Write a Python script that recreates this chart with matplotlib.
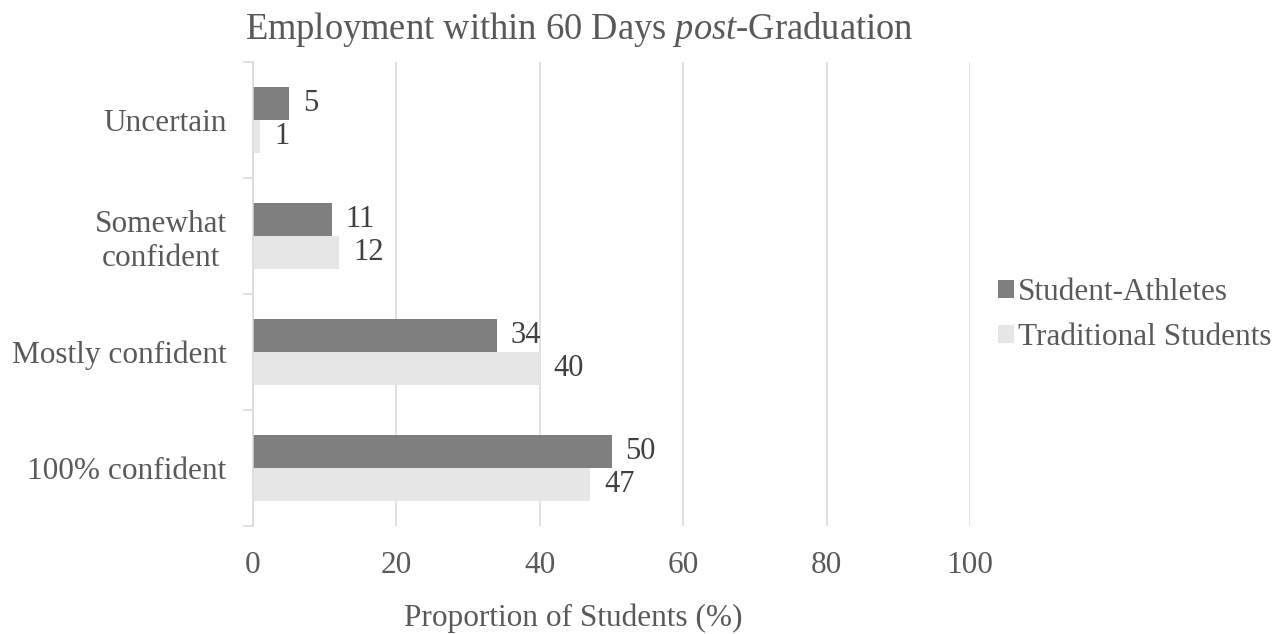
import numpy as np
import matplotlib
matplotlib.use("Agg")
import matplotlib.pyplot as plt

# confidence of employment within 60 days, % of students
categories = ["100% confident", "Mostly confident", "Somewhat\nconfident", "Uncertain"]
athletes = [50, 34, 11, 5]
traditional = [47, 40, 12, 1]
series_names = ["Student-Athletes", "Traditional Students"]
x_ticks = [0, 20, 40, 60, 80, 100]

plt.rcParams["font.family"] = ["Liberation Serif", "DejaVu Serif"]
plt.rcParams["mathtext.fontset"] = "custom"
plt.rcParams["mathtext.rm"] = "Liberation Serif"
plt.rcParams["mathtext.it"] = "Liberation Serif:italic"

text_col = "#595959"
grid_col = "#d9d9d9"
dark = "#7f7f7f"
light = "#e6e6e6"
fs = 22.5

fig = plt.figure(figsize=(12.77, 6.34), dpi=100)
ax = fig.add_axes([253 / 1277, 1 - 526 / 634, (970 - 253) / 1277, (526 - 62) / 634])

y = np.arange(len(categories))
h = 0.285
b1 = ax.barh(y + h / 2, athletes, height=h, color=dark, label=series_names[0], zorder=3)
b2 = ax.barh(y - h / 2, traditional, height=h, color=light, label=series_names[1], zorder=3)

# value labels just past the bar ends
for bars, vals in [(b1, athletes), (b2, traditional)]:
    for bar, v in zip(bars, vals):
        ax.annotate(str(v), (v, bar.get_y() + bar.get_height() / 2),
                    xytext=(10, 0), textcoords="offset points",
                    ha="left", va="center", fontsize=22, color="#404040")

ax.set_xlim(0, 100)
ax.set_ylim(-0.5, len(categories) - 0.5)
ax.set_xticks(x_ticks)
ax.set_xticklabels([str(t) for t in x_ticks])
ax.set_yticks(y)
ax.set_yticklabels(categories, ha="right", multialignment="center")
ax.set_yticks(np.arange(-0.5, len(categories)), minor=True)

ax.tick_params(axis="x", length=0, pad=18, labelsize=fs, labelcolor=text_col)
ax.tick_params(axis="y", which="major", length=0, pad=19, labelsize=fs, labelcolor=text_col)
ax.tick_params(axis="y", which="minor", length=7, width=1.1, color=grid_col)

ax.grid(axis="x", color=grid_col, linewidth=1.1, zorder=0)
for s in ["top", "right", "bottom"]:
    ax.spines[s].set_visible(False)
ax.spines["left"].set_color(grid_col)
ax.spines["left"].set_linewidth(1.1)
ax.spines["left"].set_zorder(4)

fig.text(245 / 1277, 1 - 39 / 634, r"Employment within 60 Days $\mathit{post}$-Graduation",
         fontsize=26.3, color=text_col, ha="left", va="baseline")
fig.text(573 / 1277, 1 - 626 / 634, "Proportion of Students (%)",
         fontsize=fs, color=text_col, ha="center", va="baseline")

ax.legend(loc="center left", bbox_to_anchor=(982 / 1277, 1 - 315 / 634),
          bbox_transform=fig.transFigure, frameon=False, fontsize=fs,
          labelcolor=text_col, handlelength=0.52, handleheight=0.52,
          handletextpad=0.12, labelspacing=0.5, borderpad=0)

fig.savefig("out.png", dpi=100)
